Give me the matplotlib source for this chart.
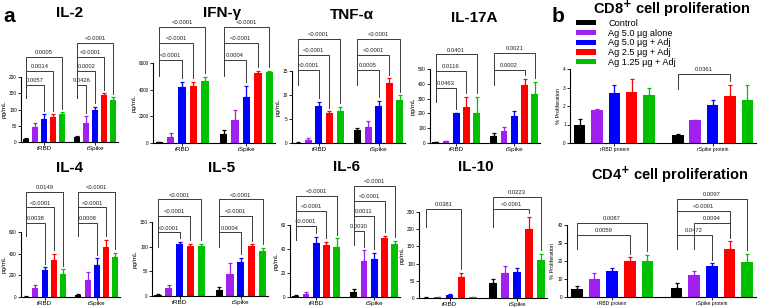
import matplotlib
matplotlib.use('Agg')
import matplotlib.pyplot as plt
from matplotlib.transforms import blended_transform_factory
from matplotlib.patches import Patch
import numpy as np

plt.rcParams['font.family'] = ['Liberation Sans', 'DejaVu Sans']

series = ['Control', 'Ag 5.0 µg alone', 'Ag 5.0 µg + Adj', 'Ag 2.5 µg + Adj', 'Ag 1.25 µg + Adj']
colors = ['#000000', '#A020F0', '#0000FF', '#FF0000', '#00C000']
groups_a = ['rRBD', 'rSpike']
groups_b = ['rRBD protein', 'rSpike protein']

# means / SD per group (rRBD, rSpike)
il2_mean = [[10, 45, 70, 78, 85], [15, 60, 97, 145, 130]]
il2_err = [[3, 15, 15, 8, 8], [5, 20, 12, 5, 8]]
ifng_mean = [[50, 480, 4200, 4300, 4650], [700, 1750, 3450, 5250, 5300]]
ifng_err = [[20, 250, 400, 300, 300], [300, 750, 850, 150, 100]]
tnf_mean = [[0.1, 0.7, 7.8, 6.3, 6.6], [2.7, 3.3, 7.8, 12.4, 9.0]]
tnf_err = [[0.05, 0.4, 0.8, 0.3, 1.0], [0.5, 1.2, 1.0, 1.1, 0.9]]
il17_mean = [[8, 12, 200, 242, 205], [45, 80, 185, 395, 328]]
il17_err = [[2, 3, 5, 70, 105], [20, 25, 30, 40, 85]]
il4_mean = [[3, 85, 248, 340, 210], [15, 160, 300, 465, 365]]
il4_err = [[2, 25, 28, 60, 50], [10, 70, 60, 65, 45]]
il5_mean = [[3, 16, 105, 101, 102], [13, 44, 69, 101, 92]]
il5_err = [[2, 6, 5, 5, 4], [5, 22, 9, 4, 6]]
il6_mean = [[1, 2.5, 45, 43, 42], [4.5, 30, 32, 49, 44]]
il6_err = [[0.3, 2, 5, 3, 7], [2.5, 9, 5, 2, 3]]
il10_mean = [[1, 2, 9, 60, 3], [45, 72, 75, 200, 110]]
il10_err = [[0.5, 1, 3, 12, 1], [10, 22, 11, 35, 17]]
cd8_mean = [[0.97, 1.77, 2.72, 2.75, 2.57], [0.45, 1.23, 2.07, 2.52, 2.35]]
cd8_err = [[0.33, 0.08, 0.42, 0.70, 0.42], [0.05, 0.02, 0.28, 0.62, 0.80]]
cd4_mean = [[4.7, 10, 14.5, 20, 20], [5, 12, 17, 26.5, 19.5]]
cd4_err = [[1.5, 3.3, 1.5, 2, 3.3], [3, 2.2, 1.8, 4.5, 4.5]]

# comparisons: (group, from, to, p-label), bottom to top within a group
il2_cmp = [(0, 0, 2, '0.0057'), (0, 0, 3, '0.0014'), (0, 0, 4, '0.0005'),
           (1, 0, 1, '0.0426'), (1, 0, 2, '0.0002'), (1, 0, 3, '<0.0001'), (1, 0, 4, '<0.0001')]
ifng_cmp = [(0, 0, 2, '<0.0001'), (0, 0, 3, '<0.0001'), (0, 0, 4, '<0.0001'),
            (1, 0, 2, '0.0004'), (1, 0, 3, '<0.0001'), (1, 0, 4, '<0.0001')]
tnf_cmp = [(0, 0, 2, '<0.0001'), (0, 0, 3, '<0.0001'), (0, 0, 4, '<0.0001'),
           (1, 0, 2, '0.0005'), (1, 0, 3, '<0.0001'), (1, 0, 4, '<0.0001')]
il17_cmp = [(0, 0, 2, '0.0463'), (0, 0, 3, '0.0116'), (0, 0, 4, '0.0401'),
            (1, 0, 3, '0.0002'), (1, 0, 4, '0.0021')]
il4_cmp = [(0, 0, 2, '0.0038'), (0, 0, 3, '<0.0001'), (0, 0, 4, '0.0149'),
           (1, 0, 2, '0.0008'), (1, 0, 3, '<0.0001'), (1, 0, 4, '<0.0001')]
il5_cmp = [(0, 0, 2, '<0.0001'), (0, 0, 3, '<0.0001'), (0, 0, 4, '<0.0001'),
           (1, 0, 2, '0.0004'), (1, 0, 3, '<0.0001'), (1, 0, 4, '<0.0001')]
il6_cmp = [(0, 0, 2, '<0.0001'), (0, 0, 3, '<0.0001'), (0, 0, 4, '<0.0001'),
           (1, 0, 1, '0.0030'), (1, 0, 2, '0.0011'), (1, 0, 3, '<0.0001'), (1, 0, 4, '<0.0001')]
il10_cmp = [(0, 0, 3, '0.0381'), (1, 0, 3, '<0.0001'), (1, 0, 4, '0.0223')]
cd8_cmp = [(1, 0, 3, '0.0361')]
cd4_cmp = [(0, 0, 3, '0.0059'), (0, 0, 4, '0.0087'),
           (1, 0, 2, '0.0472'), (1, 1, 3, '0.0094'), (1, 0, 3, '<0.0001'), (1, 0, 4, '0.0097')]

W, H = 758, 307
fig = plt.figure(figsize=(W / 100, H / 100), dpi=100)

# name, mean, err, comparisons, ymax, yticks, ylabel, groups, box(px: x0,x1,ytop,ybot),
# title pos (px), bracket base (axes frac) per group, bracket step (px)
panels = [
    ('IL-2', il2_mean, il2_err, il2_cmp, 200, [0, 50, 100, 150, 200], 'pg/mL', groups_a, (21, 118, 77, 142), (70, 13), (0.88, 0.88), 14),
    ('IFN-γ', ifng_mean, ifng_err, ifng_cmp, 6000, [0, 2000, 4000, 6000], 'pg/mL', groups_a, (153, 275, 63, 143), (222, 13), (1.04, 1.04), 16.5),
    ('TNF-α', tnf_mean, tnf_err, tnf_cmp, 15, [0, 5, 10, 15], 'pg/mL', groups_a, (292, 405, 71, 143), (352, 15), (1.01, 1.01), 15.5),
    ('IL-17A', il17_mean, il17_err, il17_cmp, 500, [0, 100, 200, 300, 400, 500], 'pg/mL', groups_a, (430, 540, 69, 143), (474, 18), (0.75, 0.99), 16.5),
    ('IL-4', il4_mean, il4_err, il4_cmp, 600, [0, 200, 400, 600], 'pg/mL', groups_a, (21, 120, 232, 297), (70, 168), (1.14, 1.14), 15.5),
    ('IL-5', il5_mean, il5_err, il5_cmp, 150, [0, 50, 100, 150], 'pg/mL', groups_a, (152, 268, 222, 296), (222, 168), (0.86, 0.86), 16.5),
    ('IL-6', il6_mean, il6_err, il6_cmp, 60, [0, 20, 40, 60], 'pg/mL', groups_a, (290, 400, 225, 297), (346, 167), (0.99, 0.92), 15),
    ('IL-10', il10_mean, il10_err, il10_cmp, 250, [0, 50, 100, 150, 200, 250], 'pg/mL', groups_a, (419, 547, 212, 298), (476, 167), (1.03, 1.03), 12),
    (r'CD8$^{\mathbf{+}}$ cell proliferation', cd8_mean, cd8_err, cd8_cmp, 4, [0, 1, 2, 3, 4], '% Proliferation', groups_b, (570, 756, 69, 143), (672, 9), (0.93, 0.93), 12),
    (r'CD4$^{\mathbf{+}}$ cell proliferation', cd4_mean, cd4_err, cd4_cmp, 40, [0, 10, 20, 30, 40], '% Proliferation', groups_b, (567, 756, 225, 297), (670, 175), (0.86, 0.86), 12),
]

group_offset = 5.65
bar_w = 0.66

for (name, mean, err, cmp, ymax, yticks, ylabel, glabels, box, tpos, base, step_px) in panels:
    x0, x1, yt, yb = box
    ax = fig.add_axes([x0 / W, 1 - yb / H, (x1 - x0) / W, (yb - yt) / H])
    xs_all = []
    for g in range(2):
        xs = np.arange(5) + g * group_offset
        xs_all.append(xs)
        for i in range(5):
            ax.bar(xs[i], mean[g][i], width=bar_w, color=colors[i], zorder=2)
            ax.errorbar(xs[i], mean[g][i], yerr=[[0], [err[g][i]]], fmt='none',
                        ecolor=colors[i], elinewidth=0.9, capsize=1.6, capthick=0.9, zorder=1)
    ax.set_xlim(-0.55, 4 + group_offset + 0.5)
    ax.set_ylim(0, ymax)
    ax.set_yticks(yticks)
    ax.set_xticks([2, 2 + group_offset])
    ax.set_xticklabels(glabels)
    is_b = 'prolif' in name
    ax.tick_params(axis='y', labelsize=3.4, length=2, width=0.6, pad=1)
    ax.tick_params(axis='x', labelsize=3.6 if is_b else 4.5, length=2, width=0.6, pad=1)
    ax.set_ylabel(ylabel, fontsize=4.0 if is_b else 4.6, labelpad=1.5)
    for s in ['top', 'right']:
        ax.spines[s].set_visible(False)
    for s in ['left', 'bottom']:
        ax.spines[s].set_linewidth(0.8)

    fig.text(tpos[0] / W, 1 - tpos[1] / H, name, ha='center', va='center',
             fontsize=10.5 if is_b else 11, fontweight='bold')

    # significance brackets (y in axes fraction)
    trans = blended_transform_factory(ax.transData, ax.transAxes)
    step = step_px / (yb - yt)
    level_count = [0, 0]
    for (g, i, j, lab) in cmp:
        lvl = base[g] + level_count[g] * step
        level_count[g] += 1
        xa = xs_all[g][i]
        xb = xs_all[g][j]
        left_end = base[g] - 0.2
        right_end = min((mean[g][j] + err[g][j]) / ymax + 0.05, lvl - 0.04)
        ax.plot([xa, xa, xb, xb], [left_end, lvl, lvl, right_end], color='#3a3a3a',
                lw=0.7, transform=trans, clip_on=False, zorder=3)
        ax.text((xa + xb) / 2, lvl + 0.025, lab, transform=trans, ha='center', va='bottom',
                fontsize=4.2, color='#222222')

fig.text(3 / W, 1 - 16 / H, 'a', fontsize=15, fontweight='bold', ha='left', va='center')
fig.text(552 / W, 1 - 16 / H, 'b', fontsize=15, fontweight='bold', ha='left', va='center')

handles = [Patch(facecolor=c) for c in colors]
fig.legend(handles, series, loc='upper left', bbox_to_anchor=(576 / W, 1 - 19 / H),
           frameon=False, fontsize=6.6, handlelength=2.2, handleheight=0.5,
           labelspacing=0.08, handletextpad=1.3, borderpad=0, borderaxespad=0)

fig.savefig('out.png', dpi=100)
